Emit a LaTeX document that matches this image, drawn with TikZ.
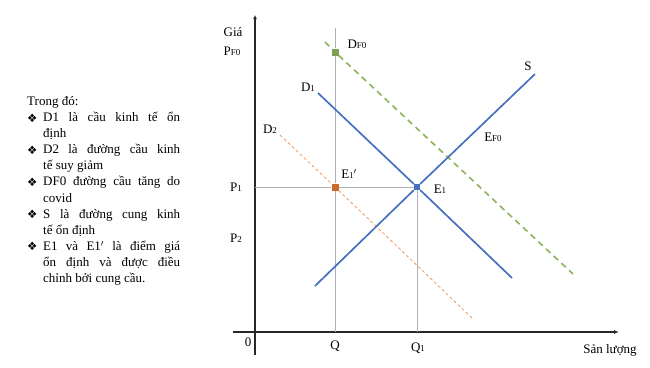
\documentclass[tikz,border=0pt]{standalone}
\usepackage{fontspec}
\setmainfont{Liberation Serif}
\newfontfamily\symfont{DejaVu Sans}
\usetikzlibrary{arrows.meta}
\definecolor{cblue}{RGB}{72,112,192}
\definecolor{cgreen}{RGB}{140,178,90}
\definecolor{corange}{RGB}{237,125,49}
\definecolor{cgray}{RGB}{175,175,180}
\definecolor{caxis}{RGB}{40,40,40}
\newcommand\sbs[1]{{\fontsize{9}{9}\selectfont #1}}
\newcommand\bul{\raisebox{-0.5pt}{\symfont\fontsize{11.5}{11.5}\selectfont ❖}}
\newcommand\jl[1]{\makebox[137pt][s]{#1}}
\tikzset{
  lbl/.style={font=\fontsize{13}{15}\selectfont, inner sep=0pt},
  axisline/.style={draw=caxis, line width=1.6pt},
  guide/.style={draw=cgray, line width=0.9pt},
  curve/.style={draw=cblue, line width=1.7pt},
  pt/.style={draw=none, minimum size=6pt, inner sep=0pt},
}
\begin{document}
\begin{tikzpicture}[x=1pt,y=-1pt]
\useasboundingbox (0,0) rectangle (650,367);
% legend
\node[anchor=north west, inner sep=0pt, font=\fontsize{13}{16.1}\selectfont] (legend) at (27,94) {%
\renewcommand{\arraystretch}{1}%
\setlength{\baselineskip}{16.1pt}%
\begin{tabular}{@{}p{16pt}@{}l@{}}
\multicolumn{2}{@{}l@{}}{Trong đó:}\\
\bul & \jl{D1 là cầu kinh tế ổn}\\
 & định\\
\bul & \jl{D2 là đường cầu kinh}\\
 & tế suy giảm\\
\bul & \jl{DF0 đường cầu tăng do}\\
 & covid\\
\bul & \jl{S là đường cung kinh}\\
 & tế ổn định\\
\bul & \jl{E1 và E1$'$ là điểm giá}\\
 & \jl{ổn định và được điều}\\
 & chỉnh bởi cung cầu.
\end{tabular}};
% axes
\coordinate (ytop) at (255,15);
\coordinate (ybot) at (255,355);
\coordinate (xl) at (233,332);
\coordinate (xr) at (619,332);
\draw[axisline, -{Latex[length=4pt,width=4pt]}] (ybot) -- (ytop);
\draw[axisline, line width=1.3pt, -{Latex[length=5pt,width=4pt]}] (xl) -- (xr);
% points
\node[pt, fill=cblue] (E1) at (417,187) {};
\node[pt, fill=corange!85!black, minimum size=7pt] (E1p) at (335,187) {};
\node[pt, fill=cgreen!90!black, minimum size=7pt] (DF0) at (335,52) {};
% guides
\coordinate (qtop) at (335,28);
\coordinate (qbot) at (335,332);
\coordinate (q1bot) at (417,332);
\coordinate (p1l) at (255,187);
\draw[guide] (qtop) -- (DF0) -- (E1p) -- (qbot);
\draw[guide] (E1) -- (q1bot);
\draw[guide] (p1l) -- (E1p) -- (E1);
% curves
\coordinate (s0) at (315,286);
\coordinate (s1) at (535,74);
\coordinate (d10) at (318,93);
\coordinate (d11) at (512,278);
\coordinate (d20) at (280,135);
\coordinate (d21) at (472,318);
\coordinate (f0) at (325,42);
\coordinate (f1) at (573,274);
\draw[draw=corange!80, line width=0.8pt, dash pattern=on 3pt off 2.5pt] (d20) -- (E1p) -- (d21);
\draw[draw=cgreen, line width=1.6pt, dash pattern=on 6pt off 4.5pt] (f0) -- (DF0) -- (f1);
\draw[curve] (s0) -- (E1) -- (s1);
\draw[curve] (d10) -- (E1) -- (d11);
\node[pt, fill=cblue] at (E1) {};
\node[pt, fill=corange!85!black, minimum size=7pt] at (E1p) {};
\node[pt, fill=cgreen!90!black, minimum size=7pt] at (DF0) {};
% labels
\node[lbl] (lGia) at (233,32) {Giá};
\node[lbl] (lPF) at (232,51) {P\sbs{F0}};
\node[lbl] (lP1) at (236,187) {P\sbs{1}};
\node[lbl] (lP2) at (236,238) {P\sbs{2}};
\node[lbl] (l0) at (248,342) {0};
\node[lbl] (lQ) at (335,346) {Q};
\node[lbl] (lQ1) at (418,348) {Q\sbs{1}};
\node[lbl] (lSL) at (610,350) {Sản lượng};
\node[lbl] (lD1) at (308,87) {D\sbs{1}};
\node[lbl] (lD2) at (270,129) {D\sbs{2}};
\node[lbl] (lDF) at (357,44) {D\sbs{F0}};
\node[lbl] (lE1p) at (349,174) {E\sbs{1}$'$};
\node[lbl] (lE1) at (440,189) {E\sbs{1}};
\node[lbl] (lS) at (528,66) {S};
\node[lbl] (lEF) at (493,137) {E\sbs{F0}};
\end{tikzpicture}
\end{document}
